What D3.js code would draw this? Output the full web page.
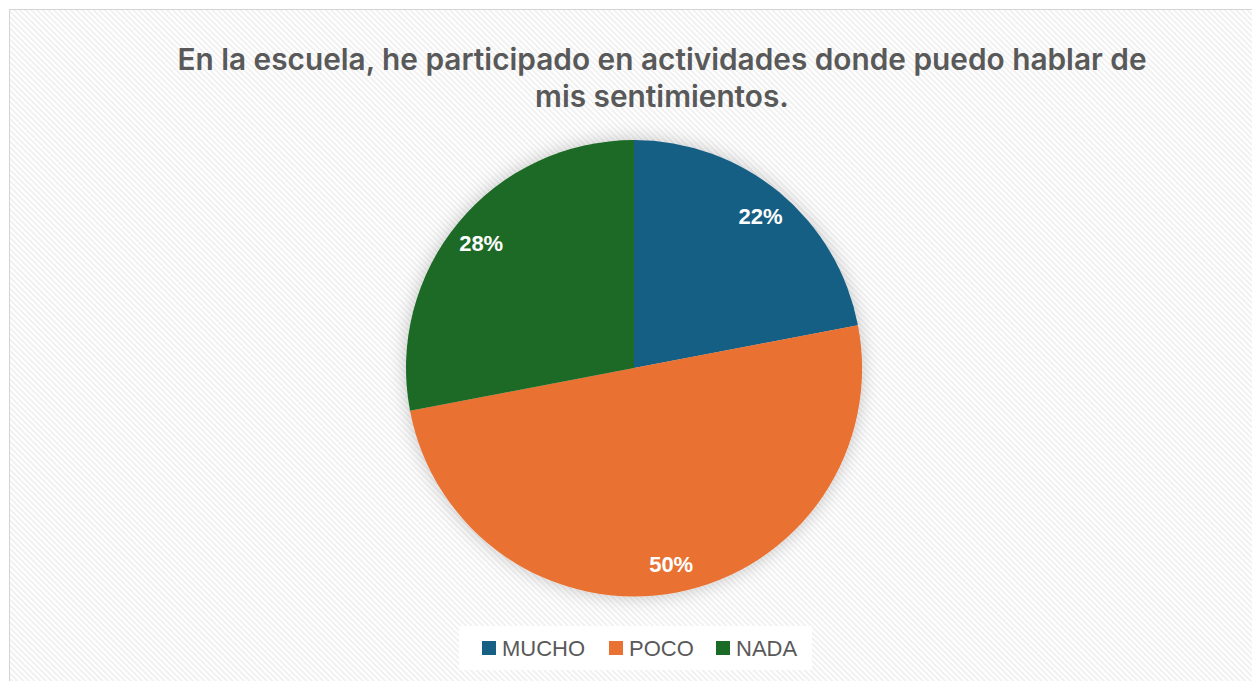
<!DOCTYPE html>
<html>
  <head>
    <meta charset="utf-8" />
    <title>Pie</title>
    <script src="https://d3js.org/d3.v7.min.js"></script>
    <style>
        body {margin: 0; background: #fff;}
        svg {display: block;}
    </style>
  </head>
  <body>
    <svg id="chart" width="1252" height="681"></svg>
    <script>
        var categories = ["MUCHO", "POCO", "NADA"];
        var values = [22, 50, 28];
        var colors = ["#185f84", "#e97132", "#1b6a25"];
        var titleLines = ["En la escuela, he participado en actividades donde puedo hablar de", "mis sentimientos."];

        var svg = d3.select("#chart");
        var defs = svg.append("defs");

        // diagonal hatched background
        var pat = defs.append("pattern")
            .attr("id", "hatch")
            .attr("width", 4).attr("height", 4)
            .attr("patternUnits", "userSpaceOnUse")
            .attr("patternTransform", "rotate(45)");
        pat.append("rect").attr("width", 4).attr("height", 4).attr("fill", "#ffffff");
        pat.append("rect").attr("width", 4).attr("height", 2).attr("fill", "#f1f1f1");

        var shadow = defs.append("filter").attr("id", "glow")
            .attr("x", "-20%").attr("y", "-20%").attr("width", "140%").attr("height", "140%");
        shadow.append("feGaussianBlur").attr("in", "SourceAlpha").attr("stdDeviation", 9).attr("result", "b");
        shadow.append("feFlood").attr("flood-color", "#000").attr("flood-opacity", 0.22);
        shadow.append("feComposite").attr("in2", "b").attr("operator", "in").attr("result", "s");
        var merge = shadow.append("feMerge");
        merge.append("feMergeNode").attr("in", "s");
        merge.append("feMergeNode").attr("in", "SourceGraphic");

        svg.append("rect")
            .attr("x", 9.5).attr("y", 9.5)
            .attr("width", 1260).attr("height", 690)
            .attr("fill", "url(#hatch)")
            .attr("stroke", "#d4d4d4").attr("stroke-width", 1);

        // title
        svg.append("g").selectAll("text")
            .data(titleLines)
            .enter().append("text")
            .attr("x", 662)
            .attr("y", function(d, i){ return 70 + i * 37; })
            .attr("text-anchor", "middle")
            .attr("font-family", "Inter, 'Open Sans', sans-serif")
            .attr("font-weight", 600)
            .attr("font-size", "29.8px")
            .attr("fill", "#595959")
            .text(function(d){ return d; });

        // pie
        var cx = 634, cy = 368, r = 228;
        var pie = d3.pie().sort(null).value(function(d){ return d; });
        var arc = d3.arc().innerRadius(0).outerRadius(r);
        var labelArc = d3.arc().innerRadius(r * 0.87).outerRadius(r * 0.87);
        var arcs = pie(values);

        var g = svg.append("g").attr("transform", "translate(" + cx + "," + cy + ")");
        g.append("g").attr("filter", "url(#glow)")
            .selectAll("path")
            .data(arcs)
            .enter().append("path")
            .attr("d", arc)
            .attr("fill", function(d, i){ return colors[i]; });

        g.selectAll(".lbl")
            .data(arcs)
            .enter().append("text")
            .attr("class", "lbl")
            .attr("transform", function(d){ return "translate(" + labelArc.centroid(d) + ")"; })
            .attr("text-anchor", "middle")
            .attr("dy", "0.42em")
            .attr("font-family", "'Liberation Sans', Arial, sans-serif")
            .attr("font-weight", "bold")
            .attr("font-size", "22px")
            .attr("fill", "#ffffff")
            .text(function(d){ return d.data + "%"; });

        // legend
        svg.append("rect")
            .attr("x", 459).attr("y", 626)
            .attr("width", 353).attr("height", 44)
            .attr("fill", "#ffffff");
        var legX = [482, 609, 716];
        var leg = svg.append("g").selectAll("g")
            .data(categories)
            .enter().append("g")
            .attr("transform", function(d, i){ return "translate(" + legX[i] + ",641)"; });
        leg.append("rect")
            .attr("width", 14).attr("height", 14)
            .attr("fill", function(d, i){ return colors[i]; });
        leg.append("text")
            .attr("x", 20).attr("y", 14.5)
            .attr("font-family", "'Liberation Sans', Arial, sans-serif")
            .attr("font-size", "22px")
            .attr("fill", "#595959")
            .text(function(d){ return d; });
    </script>
  </body>
</html>
